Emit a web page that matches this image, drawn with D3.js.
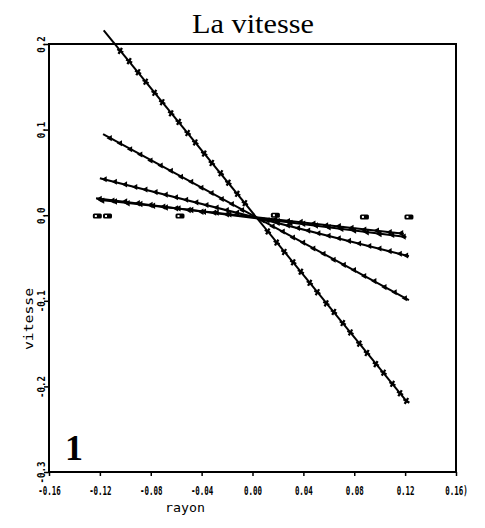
<!DOCTYPE html>
<html><head><meta charset="utf-8">
<script src="https://cdn.jsdelivr.net/npm/d3@7"></script>
<style>body{margin:0;background:#fff}svg{display:block}</style>
</head><body>
<script>
// ---- data ----
const title = "La vitesse";
const xLabel = "rayon";
const yLabel = "vitesse";
const panelNumber = "1";
const xTicks = [-0.16, -0.12, -0.08, -0.04, 0.00, 0.04, 0.08, 0.12, 0.16];
const xTickLabels = ["-0.16", "-0.12", "-0.08", "-0.04", "0.00", "0.04", "0.08", "0.12", "0.16)"];
const yTicks = [0.2, 0.1, 0.0, -0.1, -0.2, -0.3];
const yTickLabels = ["0.2", "0.1", "0.0", "-0.1", "-0.2", "-0.3"];

// fitted lines: intercept, slope, x range
const fitNames = ["A", "B", "C", "D1", "D2"];
const fitIntercept = [0.003, 0.000, -0.0018, -0.002, -0.003];
const fitSlope = [-1.82, -0.806, -0.375, -0.165, -0.185];
const fitXStart = [-0.117, -0.1175, -0.120, -0.121, -0.123];
const fitXEnd = [0.122, 0.123, 0.123, 0.119, 0.121];

// measured points
const seriesA_x = [-0.104,-0.097,-0.090,-0.084,-0.077,-0.071,-0.064,-0.058,-0.051,-0.045,-0.038,-0.032,-0.025,-0.019,-0.012,-0.006,0.012,0.019,0.025,0.032,0.038,0.045,0.051,0.058,0.064,0.071,0.077,0.084,0.090,0.097,0.103,0.110,0.116,0.121];
const seriesA_y = [0.192,0.180,0.167,0.156,0.143,0.132,0.119,0.109,0.096,0.085,0.072,0.061,0.049,0.038,0.025,0.014,-0.019,-0.032,-0.043,-0.055,-0.066,-0.079,-0.090,-0.103,-0.113,-0.126,-0.137,-0.150,-0.161,-0.174,-0.184,-0.197,-0.208,-0.217];
const seriesB_x = [-0.112,-0.104,-0.096,-0.088,-0.080,-0.072,-0.064,-0.056,-0.048,-0.040,-0.032,-0.024,-0.016,-0.008,0.008,0.016,0.024,0.032,0.040,0.048,0.056,0.064,0.072,0.080,0.088,0.096,0.104,0.112,0.120];
const seriesB_y = [0.090,0.084,0.077,0.071,0.064,0.058,0.052,0.045,0.039,0.032,0.026,0.019,0.013,0.006,-0.006,-0.013,-0.019,-0.026,-0.032,-0.039,-0.045,-0.052,-0.058,-0.064,-0.071,-0.077,-0.084,-0.090,-0.097];
const seriesC_x = [-0.116,-0.108,-0.100,-0.092,-0.084,-0.076,-0.068,-0.060,-0.052,-0.044,-0.036,-0.028,-0.020,-0.012,0.012,0.020,0.028,0.036,0.044,0.052,0.060,0.068,0.076,0.084,0.092,0.100,0.108,0.116,0.121];
const seriesC_y = [0.042,0.039,0.036,0.033,0.030,0.027,0.024,0.021,0.018,0.015,0.012,0.009,0.006,0.003,-0.006,-0.009,-0.012,-0.015,-0.018,-0.021,-0.024,-0.027,-0.030,-0.033,-0.036,-0.039,-0.042,-0.045,-0.047];
const seriesD1_x = [-0.118,-0.108,-0.098,-0.088,-0.078,-0.068,-0.058,-0.048,-0.038,-0.028,-0.018,0.018,0.028,0.038,0.048,0.058,0.068,0.078,0.088,0.098,0.108,0.117];
const seriesD1_y = [0.017,0.016,0.014,0.013,0.011,0.009,0.008,0.006,0.004,0.003,0.001,-0.005,-0.007,-0.008,-0.010,-0.012,-0.013,-0.015,-0.017,-0.018,-0.020,-0.021];
const seriesD2_x = [-0.120,-0.110,-0.100,-0.090,-0.080,-0.070,-0.060,-0.050,-0.040,-0.030,-0.020,0.020,0.030,0.040,0.050,0.060,0.070,0.080,0.090,0.100,0.110,0.119];
const seriesD2_y = [0.019,0.017,0.016,0.014,0.012,0.010,0.008,0.006,0.004,0.003,0.001,-0.007,-0.009,-0.010,-0.012,-0.014,-0.016,-0.018,-0.020,-0.022,-0.023,-0.025];
// zero-velocity markers (open boxes)
const boxX = [-0.122, -0.114, -0.057, 0.018, 0.088, 0.123];
const boxY = [-0.001, -0.001, -0.001, 0.000, -0.002, -0.002];

// ---- layout ----
const W = 485, H = 528;
const svg = d3.select("body").append("svg").attr("width", W).attr("height", H);
const x = d3.scaleLinear().domain([-0.16, 0.16]).range([49, 456]);
const y = d3.scaleLinear().domain([-0.3, 0.2]).range([472, 44]);

// frame
svg.append("rect").attr("x", x(-0.16)).attr("y", y(0.2))
  .attr("width", x(0.16) - x(-0.16)).attr("height", y(-0.3) - y(0.2))
  .attr("fill", "none").attr("stroke", "#000").attr("stroke-width", 2);

// axes
const xAxis = d3.axisBottom(x).tickValues(xTicks).tickSize(4).tickFormat((d, i) => xTickLabels[i]);
const gx = svg.append("g").attr("transform", `translate(0,${y(-0.3)})`).call(xAxis);
gx.select(".domain").remove();
gx.selectAll("line").attr("stroke", "#000").attr("stroke-width", 1.5);
gx.selectAll("text").attr("font-family", "DejaVu Sans Mono").attr("font-weight", "bold")
  .attr("font-size", 12).attr("fill", "#000").attr("y", 14)
  .attr("textLength", (d, i) => xTickLabels[i].length * 4.5).attr("lengthAdjust", "spacingAndGlyphs");

const yAxis = d3.axisLeft(y).tickValues(yTicks).tickSize(5).tickFormat((d, i) => yTickLabels[i]);
const gy = svg.append("g").attr("transform", `translate(${x(-0.16)},0)`).call(yAxis);
gy.select(".domain").remove();
gy.selectAll("line").attr("stroke", "#000").attr("stroke-width", 1.5);
gy.selectAll("text").attr("font-family", "DejaVu Sans Mono").attr("font-weight", "bold")
  .attr("font-size", 10).attr("fill", "#000")
  .attr("x", 0).attr("dy", 0)
  .attr("text-anchor", "middle")
  .attr("transform", "translate(-4,0) rotate(-90)")
  .attr("textLength", (d, i) => yTickLabels[i].length * 5.5).attr("lengthAdjust", "spacingAndGlyphs");

// fitted lines
const lineGen = d3.line().x(d => x(d[0])).y(d => y(d[1]));
fitNames.forEach((n, i) => {
  const pts = [fitXStart[i], fitXEnd[i]].map(v => [v, fitIntercept[i] + fitSlope[i] * v]);
  svg.append("path").attr("d", lineGen(pts)).attr("fill", "none")
    .attr("stroke", "#000").attr("stroke-width", 2);
});

// markers
function drawSeries(xs, ys, type, size) {
  const sym = d3.symbol().type(type).size(size);
  svg.append("g").selectAll("path").data(xs.map((v, i) => [v, ys[i]])).join("path")
    .attr("d", sym).attr("fill", "#000")
    .attr("transform", d => `translate(${x(d[0])},${y(d[1])}) rotate(30)`);
}
drawSeries(seriesA_x, seriesA_y, d3.symbolCross, 26);
drawSeries(seriesB_x, seriesB_y, d3.symbolTriangle, 16);
drawSeries(seriesC_x, seriesC_y, d3.symbolTriangle, 16);
drawSeries(seriesD1_x, seriesD1_y, d3.symbolTriangle, 18);
drawSeries(seriesD2_x, seriesD2_y, d3.symbolTriangle, 18);

// boxes
const bg = svg.append("g");
boxX.forEach((bx, i) => {
  bg.append("rect").attr("x", x(bx) - 4.5).attr("y", y(boxY[i]) - 2.5)
    .attr("width", 9).attr("height", 5).attr("rx", 1.5)
    .attr("fill", "#000");
  bg.append("rect").attr("x", x(bx) - 2.5).attr("y", y(boxY[i]) - 1)
    .attr("width", 2).attr("height", 2).attr("fill", "#fff");
});

// texts
svg.append("text").attr("x", 253).attr("y", 33).attr("text-anchor", "middle")
  .attr("font-family", "Liberation Serif").attr("font-size", 27)
  .attr("textLength", 122).attr("lengthAdjust", "spacingAndGlyphs").text(title);
svg.append("text").attr("x", 185).attr("y", 512).attr("text-anchor", "middle")
  .attr("font-family", "DejaVu Sans Mono").attr("font-size", 13)
  .attr("textLength", 40).attr("lengthAdjust", "spacingAndGlyphs").text(xLabel);
svg.append("text").attr("transform", "translate(33,319) rotate(-90)").attr("text-anchor", "middle")
  .attr("font-family", "DejaVu Sans Mono").attr("font-size", 13)
  .attr("textLength", 62).attr("lengthAdjust", "spacingAndGlyphs").text(yLabel);
svg.append("text").attr("x", 74).attr("y", 460).attr("text-anchor", "middle")
  .attr("font-family", "Liberation Serif").attr("font-weight", "bold").attr("font-size", 36).text(panelNumber);
</script>
</body></html>
